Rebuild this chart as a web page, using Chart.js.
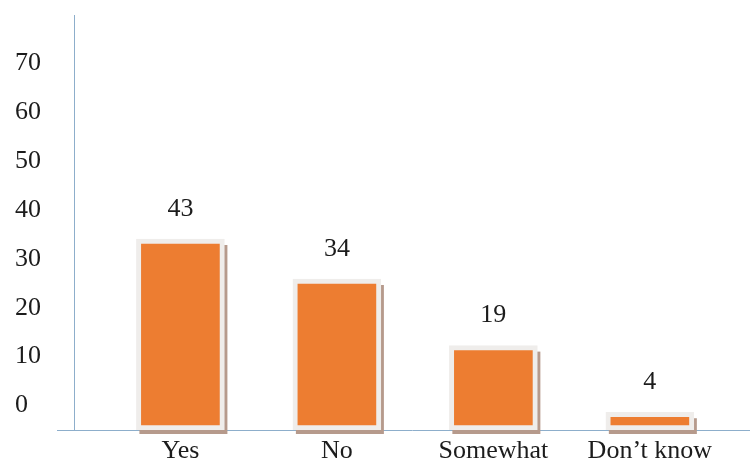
<!DOCTYPE html>
<html>
<head>
<meta charset="utf-8">
<script src="https://cdn.jsdelivr.net/npm/chart.js@4/dist/chart.umd.min.js"></script>
<style>
    body { margin: 0; background: #ffffff; }
    #wrap { width: 750px; height: 469px; }
</style>
</head>
<body>
<div id="wrap"><canvas id="responseChart" width="750" height="469"></canvas></div>
<script>
const categories = ['Yes', 'No', 'Somewhat', 'Don\u2019t know'];
const responses = [43, 34, 19, 4];
const tickLabels = [0, 10, 20, 30, 40, 50, 60, 70];

const axisColor = '#8daecb';
const textColor = '#1c1c1c';
const serifFont = { family: '"Liberation Serif", "Times New Roman", serif', size: 26 };

// brown drop shadow behind each framed bar
const barShadow = {
    id: 'barShadow',
    beforeDatasetsDraw(chart) {
        const ctx = chart.ctx;
        const meta = chart.getDatasetMeta(0);
        ctx.save();
        ctx.fillStyle = '#b69a8c';
        meta.data.forEach(bar => {
            const left = bar.x - bar.width / 2;
            const top = Math.min(bar.y, bar.base);
            const height = Math.abs(bar.base - bar.y);
            ctx.fillRect(left + 3, top + 6, bar.width, height - 2);
        });
        ctx.restore();
    }
};

// value above each bar + the short stub of the x axis left of the y axis
const valueLabels = {
    id: 'valueLabels',
    afterDatasetsDraw(chart) {
        const ctx = chart.ctx;
        const meta = chart.getDatasetMeta(0);
        ctx.save();
        ctx.font = serifFont.size + 'px ' + serifFont.family;
        ctx.fillStyle = textColor;
        ctx.textAlign = 'center';
        ctx.textBaseline = 'middle';
        meta.data.forEach((bar, i) => {
            ctx.fillText(responses[i], bar.x, bar.y - 30);
        });

        const area = chart.chartArea;
        ctx.strokeStyle = axisColor;
        ctx.lineWidth = 1;
        ctx.beginPath();
        ctx.moveTo(57, area.bottom + 0.5);
        ctx.lineTo(area.left, area.bottom + 0.5);
        ctx.stroke();
        ctx.restore();
    }
};

const ctx = document.getElementById('responseChart').getContext('2d');

new Chart(ctx, {
    type: 'bar',
    data: {
        datasets: [{
            data: responses.map((v, i) => ({ x: i, y: v })),
            backgroundColor: '#ed7d31',
            borderColor: '#efedeb',
            borderWidth: 5,
            borderSkipped: false,
            barThickness: 88,
            yAxisID: 'yBar'
        }]
    },
    options: {
        responsive: false,
        animation: false,
        layout: { padding: { top: 10, left: 15, right: 0, bottom: 0 } },
        plugins: {
            legend: { display: false },
            tooltip: { enabled: false }
        },
        scales: {
            x: {
                type: 'linear',
                min: -0.68,
                max: 3.64,
                offset: false,
                grid: { display: false, drawTicks: false },
                border: { color: axisColor },
                afterBuildTicks: scale => {
                    scale.ticks = categories.map((c, i) => ({ value: i }));
                },
                afterFit: scale => { scale.height = 39; },
                ticks: {
                    callback: value => categories[value],
                    font: serifFont,
                    color: textColor,
                    padding: 6,
                    maxRotation: 0,
                    autoSkip: false
                }
            },
            y: {
                position: 'left',
                min: -5,
                max: 79.7,
                grid: { display: false, drawTicks: false },
                border: { color: axisColor },
                afterBuildTicks: scale => {
                    scale.ticks = tickLabels.map(v => ({ value: v }));
                },
                afterFit: scale => { scale.width = 59; },
                ticks: {
                    font: serifFont,
                    color: textColor,
                    crossAlign: 'far',
                    padding: 0
                }
            },
            yBar: {
                display: false,
                min: 0,
                max: 93.3
            }
        }
    },
    plugins: [barShadow, valueLabels]
});
</script>
</body>
</html>
